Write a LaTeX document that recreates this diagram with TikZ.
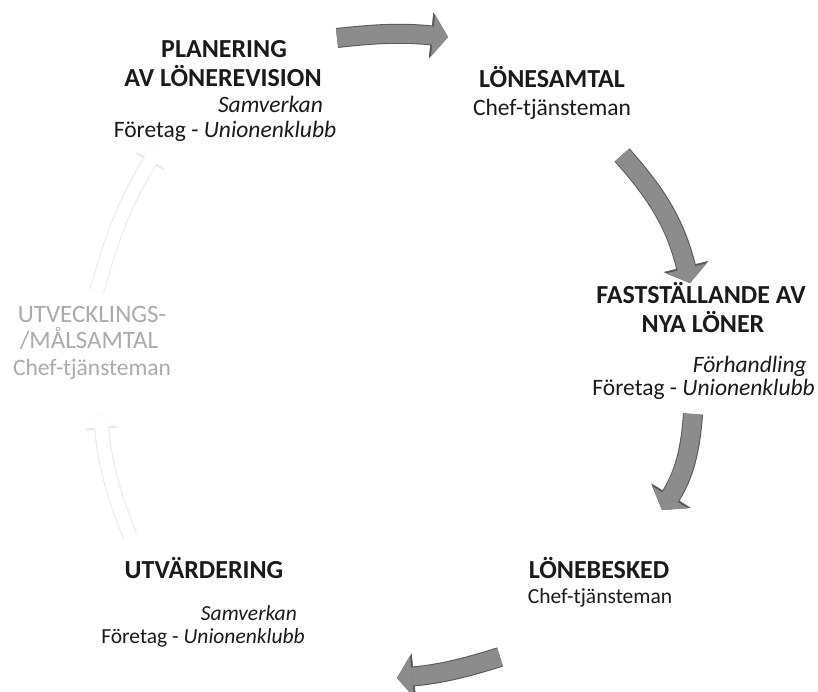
\documentclass[tikz,border=0pt]{standalone}
\usepackage{fontspec}
\setmainfont{Carlito}
\usetikzlibrary{arrows.meta}
\definecolor{ink}{HTML}{1A1A1A}
\definecolor{faint}{HTML}{ABABAB}
\definecolor{arrowfill}{HTML}{8C8C8C}
\definecolor{arrowedge}{HTML}{585858}
\begin{document}
\begin{tikzpicture}[x=1pt,y=-1pt,
    title/.style = {anchor=base, inner sep=0pt, text=ink, font=\fontsize{26}{29}\selectfont\bfseries},
    sub/.style = {anchor=base, inner sep=0pt, text=ink, font=\fontsize{23.5}{26}\selectfont},
    small/.style = {anchor=base, inner sep=0pt, text=ink, font=\fontsize{21.5}{24}\selectfont},
    pale/.style = {anchor=base, inner sep=0pt, text=faint, font=\fontsize{25}{28}\selectfont},
    flow/.style = {line width=18pt, draw=arrowfill, -{Triangle[width=42pt,length=15pt,line width=0.6pt]},
        preaction={draw=arrowedge, line width=20pt, -{Triangle[width=46pt,length=17pt,line width=0.6pt]}}},
    ghost/.style = {line width=13pt, draw=white, -{Triangle[width=30pt,length=14pt,line width=0.6pt]},
        preaction={draw=black!9, line width=15pt, -{Triangle[width=33pt,length=16pt,line width=0.6pt]}}}]
    \useasboundingbox[fill=white] (0,0) rectangle (818,691);
    % planering
    \node[title] (plan1) at (224,57) {PLANERING};
    \node[title] (plan2) at (223,86) {AV LÖNEREVISION};
    \node[sub, anchor=base east] (plansv) at (323,112) {\textit{Samverkan}};
    \node[sub] (planft) at (225,137) {Företag - \textit{Unionenklubb}};
    % lönesamtal
    \node[title] (samt) at (552,87) {LÖNESAMTAL};
    \node[sub] (samtcs) at (552,115) {Chef-tjänsteman};
    % fastställande
    \node[title] (fast1) at (701,303) {FASTSTÄLLANDE AV};
    \node[title] (fast2) at (703,332) {NYA LÖNER};
    \node[sub, anchor=base east] (fastfh) at (807,372) {\textit{Förhandling}};
    \node[sub, anchor=base east] (fastft) at (815,395) {Företag - \textit{Unionenklubb}};
    % lönebesked
    \node[title] (besk) at (599,578) {LÖNEBESKED};
    \node[small] (beskcs) at (600,603) {Chef-tjänsteman};
    % utvärdering
    \node[title] (utv) at (204,578) {UTVÄRDERING};
    \node[small, anchor=base east] (utvsv) at (297,620) {\textit{Samverkan}};
    \node[small] (utvft) at (203,643) {Företag - \textit{Unionenklubb}};
    % målsamtal
    \node[pale] (mal1) at (92,322) {UTVECKLINGS-};
    \node[pale] (mal2) at (89,348) {/MÅLSAMTAL};
    \node[pale, font=\fontsize{23.5}{26}\selectfont] (malcs) at (92,375) {Chef-tjänsteman};

    \coordinate (a1s) at (337,38);  \coordinate (a1e) at (448,37);
    \coordinate (a2s) at (622,155); \coordinate (a2e) at (690,283);
    \coordinate (a3s) at (693,414); \coordinate (a3e) at (662,510);
    \coordinate (a4s) at (500,657); \coordinate (a4e) at (397,678);
    \coordinate (a5s) at (130,536); \coordinate (a5e) at (100,413);
    \coordinate (a6s) at (97,291);  \coordinate (a6e) at (158,148);
    \draw[flow] (a1s) to[bend left=6] (a1e);
    \draw[flow] (a2s) to[bend left=14] (a2e);
    \draw[flow] (a3s) to[bend left=14] (a3e);
    \draw[flow] (a4s) to[bend left=6] (a4e);
    \draw[ghost] (a5s) to[bend left=8] (a5e);
    \draw[ghost] (a6s) to[bend left=8] (a6e);
\end{tikzpicture}
\end{document}
